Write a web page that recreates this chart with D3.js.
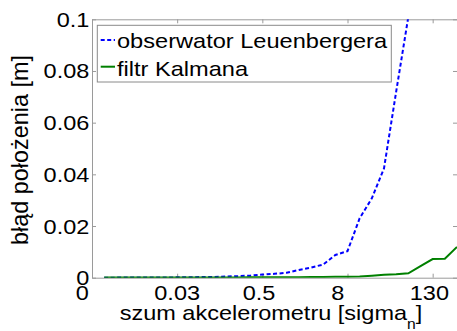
<!DOCTYPE html>
<html>
<head>
<meta charset="utf-8">
<script src="https://cdn.jsdelivr.net/npm/d3@7"></script>
<style>
  html, body { margin: 0; padding: 0; background: #fff; }
  svg { display: block; font-family: "Liberation Sans", Arial, sans-serif; }
  text { white-space: pre; fill: #000; }
</style>
</head>
<body>
<svg id="chart" width="457" height="331"></svg>
<script>
// Noise level index (1..30); the axis shows a few of the noise values as labels
const sampleIndex = d3.range(1, 31);

// Position error [m] of the Luenberger observer
const leuenberger = [
  0.00002, 0.00003, 0.00004, 0.00005, 0.00007, 0.0001, 0.00013, 0.00018, 0.00025, 0.0003,
  0.00045, 0.0006, 0.0008, 0.0012, 0.0015, 0.0019, 0.0030, 0.0039, 0.0051, 0.0088,
  0.0103, 0.023, 0.0307, 0.0423, 0.072, 0.101, 0.17, 0.28, 0.45, 0.75
];

// Position error [m] of the Kalman filter
const kalman = [
  0.00003, 0.00003, 0.00004, 0.00004, 0.00005, 0.00005, 0.00006, 0.00007, 0.00008, 0.00009,
  0.0001, 0.00012, 0.00013, 0.00015, 0.00017, 0.0002, 0.00022, 0.00026, 0.0003, 0.00035,
  0.0004, 0.0005, 0.0008, 0.0011, 0.0013, 0.0017, 0.0045, 0.0072, 0.0073, 0.0119
];

const xTickIndex = [0, 7, 14, 21, 28];
const xTickLabels = ["0", "0.03", "0.5", "8", "130"];
const yTicks = [0, 0.02, 0.04, 0.06, 0.08, 0.1];
const seriesNames = ["obserwator Leuenbergera", "filtr Kalmana"];
const seriesColors = ["#0000ff", "#008000"];

const plot = { left: 92, right: 457, top: 19.3, bottom: 277.7 };
const axisColor = "#9a9a9a";

const svg = d3.select("#chart");

const x = d3.scaleLinear().domain([0, 30]).range([plot.left, plot.right]);
const y = d3.scaleLinear().domain([0, 0.1]).range([plot.bottom, plot.top]);

// Horizontally stretched text, as the labels are wider than the font's natural width
function stretchedText(parent, px, py, str, size, sx, anchor) {
  return parent.append("text")
    .attr("transform", `translate(${px},${py}) scale(${sx},1)`)
    .attr("font-size", size)
    .attr("text-anchor", anchor)
    .text(str);
}

// Axes: ticks point inward on all four sides (boxed axes)
const tickLen = 4;
const axes = svg.append("g");
const styleAxis = g => {
  g.selectAll("path.domain").attr("stroke", axisColor).attr("stroke-width", 1);
  g.selectAll(".tick line").attr("stroke", axisColor).attr("stroke-width", 1);
  g.selectAll("text").remove();
};
axes.append("g").attr("transform", `translate(0,${plot.bottom})`)
  .call(d3.axisBottom(x).tickValues(xTickIndex).tickSizeInner(-tickLen).tickSizeOuter(0)).call(styleAxis);
axes.append("g").attr("transform", `translate(0,${plot.top})`)
  .call(d3.axisTop(x).tickValues(xTickIndex).tickSizeInner(-tickLen).tickSizeOuter(0)).call(styleAxis);
axes.append("g").attr("transform", `translate(${plot.left},0)`)
  .call(d3.axisLeft(y).tickValues(yTicks).tickSizeInner(-tickLen).tickSizeOuter(0)).call(styleAxis);
axes.append("g").attr("transform", `translate(${plot.right},0)`)
  .call(d3.axisRight(y).tickValues(yTicks).tickSizeInner(-tickLen).tickSizeOuter(0)).call(styleAxis);

// Tick labels (x labels are padded to equal length, which shifts them left of their ticks)
const labelPad = d3.max(xTickLabels, s => s.length);
const tickLabels = svg.append("g");
xTickIndex.forEach((v, i) => {
  stretchedText(tickLabels, x(v), plot.bottom + 22.3, xTickLabels[i].padEnd(labelPad, " "), 19.6, 1.2, "middle");
});
const yFmt = d => d === 0 ? "0" : String(+d.toFixed(2));
yTicks.forEach(v => {
  stretchedText(tickLabels, plot.left - 2.7, y(v) + 7.5, yFmt(v), 19.6, 1.2, "end");
});

// Axis titles
const xTitle = svg.append("text")
  .attr("transform", `translate(271,319.5) scale(1.12,1)`)
  .attr("font-size", 21)
  .attr("text-anchor", "middle");
xTitle.append("tspan").text("szum akcelerometru [sigma");
xTitle.append("tspan").attr("font-size", 14).attr("dy", 9.5).text("n");
xTitle.append("tspan").attr("dy", -9.5).text("]");

svg.append("text")
  .attr("transform", `translate(27.5,150) rotate(-90)`)
  .attr("font-size", 23.4)
  .attr("text-anchor", "middle")
  .text("błąd położenia [m]");

// Data lines, clipped to the axes box
svg.append("clipPath").attr("id", "plotClip")
  .append("rect")
  .attr("x", plot.left).attr("y", plot.top)
  .attr("width", plot.right - plot.left).attr("height", plot.bottom - plot.top);

const line = d3.line().x((d, i) => x(sampleIndex[i])).y(d => y(d));
const lines = svg.append("g").attr("clip-path", "url(#plotClip)");
lines.append("path").datum(leuenberger)
  .attr("fill", "none").attr("stroke", seriesColors[0]).attr("stroke-width", 2)
  .attr("stroke-dasharray", "4,2.5").attr("d", line);
lines.append("path").datum(kalman)
  .attr("fill", "none").attr("stroke", seriesColors[1]).attr("stroke-width", 2)
  .attr("d", line);

// Legend
const legend = svg.append("g");
legend.append("rect")
  .attr("x", 97.3).attr("y", 25.3).attr("width", 294).attr("height", 56.7)
  .attr("fill", "#fff").attr("stroke", "#8a8a8a").attr("stroke-width", 1);
const legendRows = [{ ly: 40, ty: 48.3 }, { ly: 66.7, ty: 76 }];
seriesNames.forEach((name, i) => {
  legend.append("line")
    .attr("x1", 100.7).attr("x2", 115).attr("y1", legendRows[i].ly).attr("y2", legendRows[i].ly)
    .attr("stroke", seriesColors[i]).attr("stroke-width", 2)
    .attr("stroke-dasharray", i === 0 ? "4,2.5" : null);
  stretchedText(legend, 117, legendRows[i].ty, name, 20, 1.18, "start");
});
</script>
</body>
</html>
